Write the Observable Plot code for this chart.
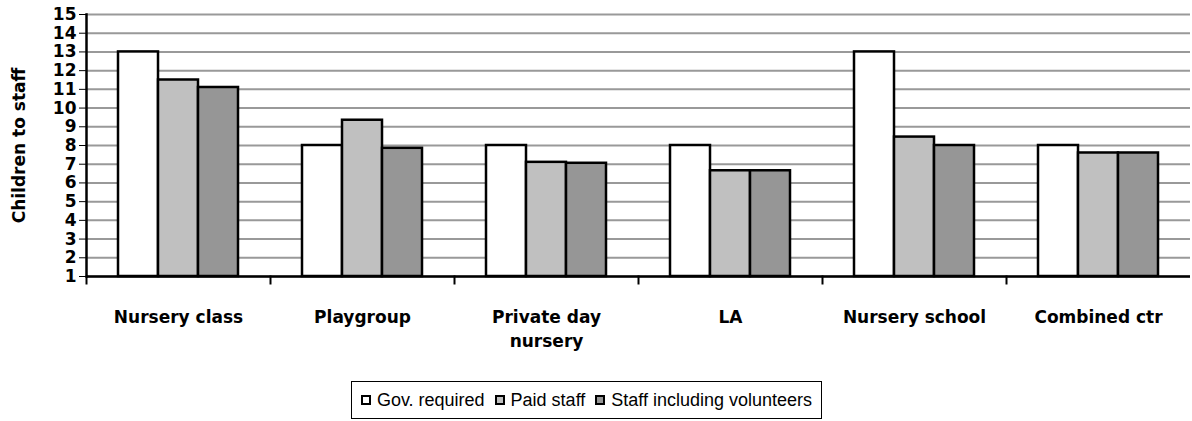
<!DOCTYPE html>
<html>
<head>
<meta charset="utf-8">
<script src="https://cdn.jsdelivr.net/npm/d3@7"></script>
<script src="https://cdn.jsdelivr.net/npm/@observablehq/plot@0.6"></script>
<style>
  html, body { margin: 0; padding: 0; background: #fff; }
  #wrap { position: relative; width: 1192px; height: 421px; overflow: hidden; }
  #legend {
    position: absolute; left: 351px; top: 381px; width: 471px; height: 38px;
    box-sizing: border-box; border: 1.5px solid #000;
    display: flex; align-items: center; justify-content: center; gap: 10px;
    font-family: "Liberation Sans", Arial, sans-serif; font-size: 18px; color: #000; white-space: nowrap;
  }
  .item { display: flex; align-items: center; gap: 6px; white-space: nowrap; flex: none; }
  .sw { width: 10px; height: 10px; box-sizing: border-box; border: 2px solid #000; flex: none; }
</style>
</head>
<body>
<div id="wrap"><div id="chart"></div><div id="legend"></div></div>
<script>
const categories = ["Nursery class", "Playgroup", "Private day nursery", "LA", "Nursery school", "Combined ctr"];
const categoryLabels = ["Nursery class", "Playgroup", "Private day\nnursery", "LA", "Nursery school", "Combined ctr"];
const series = ["Gov. required", "Paid staff", "Staff including volunteers"];
const govRequired = [13, 8, 8, 8, 13, 8];
const paidStaff = [11.5, 9.35, 7.1, 6.65, 8.45, 7.6];
const staffInclVolunteers = [11.1, 7.85, 7.05, 6.65, 8.0, 7.6];
const yTicks = [1, 2, 3, 4, 5, 6, 7, 8, 9, 10, 11, 12, 13, 14, 15];
const seriesFills = ["#ffffff", "#c0c0c0", "#969696"];

const seriesValues = [govRequired, paidStaff, staffInclVolunteers];
const rows = [];
categories.forEach((c, i) => series.forEach((s, j) => rows.push({category: c, series: s, value: seriesValues[j][i]})));
const labelOf = new Map(categories.map((c, i) => [c, categoryLabels[i]]));

const W = 1192, H = 372, mt = 14, mb = 96, ml = 84, mr = 0;
const font = "DejaVu Sans, sans-serif";

const chart = Plot.plot({
  width: W, height: H,
  marginTop: mt, marginBottom: mb, marginLeft: ml, marginRight: mr,
  style: {fontFamily: font, background: "#fff", color: "#000"},
  fx: {domain: categories, padding: 0, axis: null},
  x: {domain: series, paddingInner: 0, paddingOuter: 0.756, axis: null},
  y: {domain: [1, 15], axis: null},
  color: {domain: series, range: seriesFills},
  marks: [
    Plot.gridY({ticks: yTicks, stroke: "#999999", strokeOpacity: 1, strokeWidth: 2}),
    Plot.barY(rows, {fx: "category", x: "series", y1: 1, y2: "value", fill: "series", stroke: "#000", strokeWidth: 2.5}),
    Plot.ruleY([1], {stroke: "#000", strokeWidth: 2.5}),
    Plot.frame({anchor: "left", facetAnchor: "left", stroke: "#000", strokeWidth: 2.5}),
    Plot.frame({anchor: "left", insetTop: H - mt - mb, insetBottom: -7, stroke: "#000", strokeWidth: 2}),
    Plot.axisY({ticks: yTicks, tickSize: 7, tickPadding: 3, fontSize: 17, fontWeight: "bold",
      tickFormat: d => String(d), label: "Children to staff", labelAnchor: "center", labelArrow: "none",
      labelOffset: 74}),
    Plot.axisFx({anchor: "bottom", tickSize: 0, tickPadding: 30, fontSize: 17, fontWeight: "bold",
      lineHeight: 1.4, tickFormat: d => labelOf.get(d), label: null})
  ]
});
document.getElementById("chart").appendChild(chart);
chart.querySelectorAll("text").forEach(t => {
  if (t.textContent === "Children to staff") { t.setAttribute("font-weight", "bold"); t.setAttribute("font-size", "17"); }
});

const legend = document.getElementById("legend");
series.forEach((s, i) => {
  const item = document.createElement("div");
  item.className = "item";
  const sw = document.createElement("div");
  sw.className = "sw";
  sw.style.background = seriesFills[i];
  const tx = document.createElement("span");
  tx.textContent = s;
  item.appendChild(sw); item.appendChild(tx);
  legend.appendChild(item);
});
</script>
</body>
</html>
